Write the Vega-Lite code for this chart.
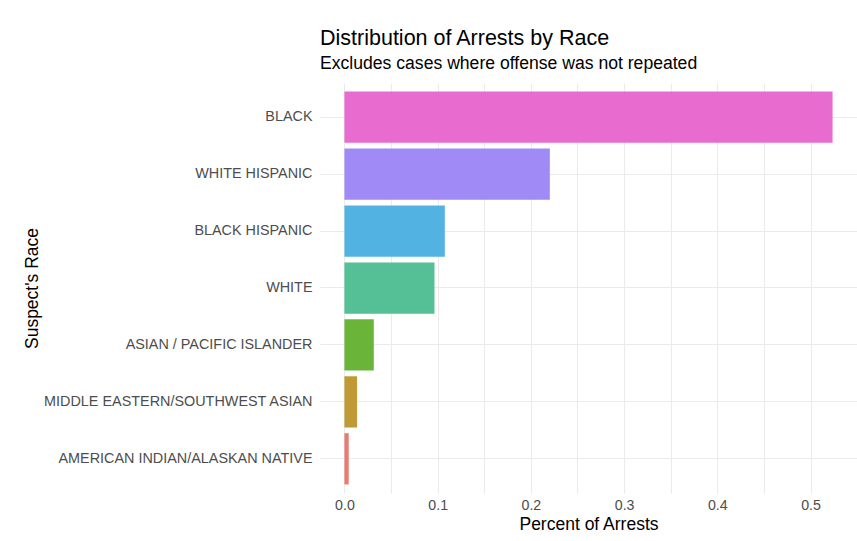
{
  "$schema": "https://vega.github.io/schema/vega-lite/v6.json",
  "autosize": {"type": "none"},
  "padding": {"left": 320, "top": 83, "right": 0, "bottom": 48},
  "width": 537,
  "height": 410,
  "background": "#ffffff",
  "title": {
    "text": "Distribution of Arrests by Race",
    "subtitle": "Excludes cases where offense was not repeated",
    "anchor": "start",
    "frame": "group",
    "font": "Liberation Sans",
    "fontSize": 21.5,
    "fontWeight": "normal",
    "color": "#000000",
    "subtitleFont": "Liberation Sans",
    "subtitleFontSize": 17.6,
    "subtitleColor": "#000000",
    "subtitlePadding": 6,
    "offset": 10
  },
  "data": {
    "values": [
      {"race": "BLACK", "pct": 0.5236},
      {"race": "WHITE HISPANIC", "pct": 0.2203},
      {"race": "BLACK HISPANIC", "pct": 0.1077},
      {"race": "WHITE", "pct": 0.0966},
      {"race": "ASIAN / PACIFIC ISLANDER", "pct": 0.0315},
      {"race": "MIDDLE EASTERN/SOUTHWEST ASIAN", "pct": 0.0136},
      {"race": "AMERICAN INDIAN/ALASKAN NATIVE", "pct": 0.0046}
    ]
  },
  "mark": {"type": "bar"},
  "encoding": {
    "y": {
      "field": "race",
      "type": "nominal",
      "sort": ["BLACK", "WHITE HISPANIC", "BLACK HISPANIC", "WHITE", "ASIAN / PACIFIC ISLANDER", "MIDDLE EASTERN/SOUTHWEST ASIAN", "AMERICAN INDIAN/ALASKAN NATIVE"],
      "scale": {"paddingInner": 0.1, "paddingOuter": 0.15},
      "axis": {
        "title": "Suspect's Race",
        "titleFont": "Liberation Sans",
        "titleFontSize": 17.5,
        "titleFontWeight": "normal",
        "titleColor": "#000000",
        "titlePadding": 79,
        "labelFont": "Liberation Sans",
        "labelFontSize": 14.4,
        "labelColor": "#4d4d4d",
        "labelPadding": 8,
        "labelLimit": 400,
        "ticks": false,
        "domain": false,
        "grid": true,
        "bandPosition": 0.5,
        "gridColor": "#ebebeb",
        "gridWidth": 1.1
      }
    },
    "x": {
      "field": "pct",
      "type": "quantitative",
      "scale": {"domain": [-0.0262, 0.5498], "nice": false, "zero": false},
      "axis": {
        "title": "Percent of Arrests",
        "titleFont": "Liberation Sans",
        "titleFontSize": 17.5,
        "titleFontWeight": "normal",
        "titleColor": "#000000",
        "titlePadding": 3,
        "values": [0, 0.05, 0.1, 0.15, 0.2, 0.25, 0.3, 0.35, 0.4, 0.45, 0.5, 0.55],
        "labelExpr": "abs(datum.value * 10 - round(datum.value * 10)) < 0.01 ? format(datum.value, '.1f') : ''",
        "labelFont": "Liberation Sans",
        "labelFontSize": 14.2,
        "labelColor": "#4d4d4d",
        "labelPadding": 5,
        "labelFlush": false,
        "ticks": false,
        "domain": false,
        "grid": true,
        "gridColor": "#ebebeb",
        "gridWidth": 1.1
      }
    },
    "color": {
      "field": "race",
      "type": "nominal",
      "legend": null,
      "scale": {
        "domain": ["BLACK", "WHITE HISPANIC", "BLACK HISPANIC", "WHITE", "ASIAN / PACIFIC ISLANDER", "MIDDLE EASTERN/SOUTHWEST ASIAN", "AMERICAN INDIAN/ALASKAN NATIVE"],
        "range": ["#e86bd0", "#a08af6", "#52b3e3", "#55bf95", "#6ab43a", "#bf9a35", "#e87b72"]
      }
    }
  },
  "config": {"view": {"stroke": null}}
}
